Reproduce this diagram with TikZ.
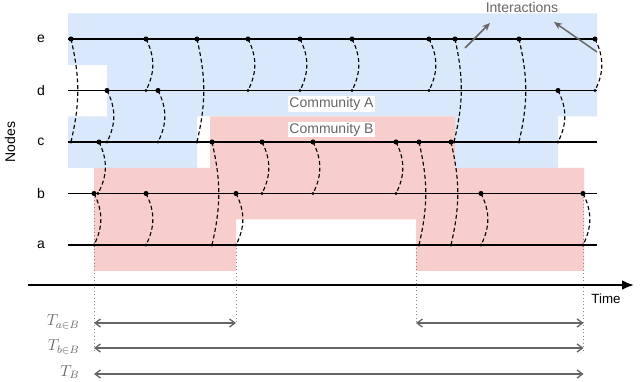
\documentclass[tikz,border=0pt]{standalone}
\usepackage{fontspec}
\setmainfont{Liberation Sans}
\usetikzlibrary{arrows.meta}
\definecolor{commA}{HTML}{DAE8FC}
\definecolor{commB}{HTML}{F8CECC}
\definecolor{txtgray}{HTML}{666666}
\definecolor{dotgray}{HTML}{8C8C8C}
\begin{document}
\begin{tikzpicture}[x=0.75pt,y=-0.75pt,
  rowline/.style={line width=1.1pt},
  conn/.style={line width=0.85pt, dash pattern=on 3pt off 2pt},
  lbl/.style={font=\fontsize{10.5}{12}\selectfont},
  commlbl/.style={lbl, text=txtgray, fill=white, inner sep=1pt},
  vdot/.style={dotgray, dotted, line width=0.6pt},
  span/.style={txtgray, line width=1pt, {Straight Barb[length=4pt,width=6pt]}-{Straight Barb[length=4pt,width=6pt]}},
  tlbl/.style={anchor=east, text=txtgray, font=\fontsize{12}{14}\selectfont},
  pointer/.style={txtgray, line width=1.1pt, -{Stealth[length=6pt,width=5pt]}}]
\useasboundingbox (0,0) rectangle (640,382);

% community regions
\fill[commA] (68,13.25) -- (597,13.25) -- (597,116.25) -- (558,116.25) -- (558,167.75)
  -- (455,167.75) -- (455,116.25) -- (197,116.25) -- (197,167.75) -- (68,167.75)
  -- (68,116.25) -- (107,116.25) -- (107,64.75) -- (68,64.75) -- cycle;
\fill[commB] (210,116.25) -- (455,116.25) -- (455,167.75) -- (584,167.75) -- (584,270.75)
  -- (416,270.75) -- (416,219.25) -- (236,219.25) -- (236,270.75) -- (94,270.75)
  -- (94,167.75) -- (210,167.75) -- cycle;

% dotted vertical guides
\coordinate (g1t) at (94,193.5);  \coordinate (g1b) at (94,352);
\coordinate (g2t) at (236,245);   \coordinate (g2b) at (236,323);
\coordinate (g3t) at (416,245);   \coordinate (g3b) at (416,323);
\coordinate (g4t) at (583.5,193.5); \coordinate (g4b) at (583.5,352);
\foreach \g in {1,2,3,4} { \draw[vdot] (g\g t) -- (g\g b); }

% node rows
\foreach \r/\y in {e/39,d/90.5,c/142,b/193.5,a/245} {
  \coordinate (\r0) at (68,\y);
  \coordinate (\r1) at (597,\y);
  \draw[rowline] (\r0) -- (\r1);
  \node[lbl] (l\r) at (41,\y) {\r};
}
\node[lbl, rotate=90] (nodeslbl) at (10,142) {Nodes};

% interactions: source x/y, target x/y, bend
\foreach \n/\sx/\sy/\tx/\ty/\b in {
  1/71/39/71/142/13, 2/146/39/146/90.5/27, 3/197/39/197/142/13,
  4/248/39/248/90.5/27, 5/300/39/300/90.5/27, 6/352/39/352/90.5/27,
  7/429/39/429/90.5/27, 8/455/39/454/142/13, 9/519/39/519/142/13,
  10/595/39/595/90.5/27, 11/107/90.5/107/142/27, 12/158/90.5/158/142/27,
  13/558/90.5/558/142/27, 14/99/142/98/193.5/27, 15/212/142/212/245/13,
  16/262/142/262/193.5/27, 17/313/142/313/193.5/27, 18/396/142/396/193.5/27,
  19/419/142/419/245/13, 20/451/142/451/245/13, 21/94/193.5/94/245/27,
  22/146/193.5/146/245/27, 23/236/193.5/236/245/27, 24/481/193.5/481/245/27,
  25/583/193.5/583/245/27} {
  \coordinate (s\n) at (\sx,\sy);
  \coordinate (t\n) at (\tx,\ty);
  \draw[conn] (s\n) to[bend left=\b] (t\n);
  \fill (s\n) circle (1.9pt);
  \fill (t\n) circle (1.15pt);
}

% community labels
\node[commlbl] (ca) at (331.5,104) {Community A};
\node[commlbl] (cb) at (331.5,129.5) {Community B};

% interactions pointer
\node[lbl, text=txtgray] (intl) at (522,7) {Interactions};
\coordinate (p1s) at (465,48); \coordinate (p1e) at (490,23);
\coordinate (p2s) at (597,52); \coordinate (p2e) at (554,22);
\draw[pointer] (p1s) -- (p1e);
\draw[pointer] (p2s) -- (p2e);

% time axis
\coordinate (ax0) at (28,285); \coordinate (ax1) at (634,285);
\draw[line width=1.9pt, -{Latex[length=9pt,width=7.5pt]}] (ax0) -- (ax1);
\node[lbl, font=\fontsize{10}{12}\selectfont] (timelbl) at (606,299) {Time};

% durations
\coordinate (d1a) at (94,323); \coordinate (d1b) at (236,323);
\coordinate (d2a) at (416,323); \coordinate (d2b) at (583.5,323);
\coordinate (d3a) at (94,348); \coordinate (d3b) at (583.5,348);
\coordinate (d4a) at (94,374); \coordinate (d4b) at (583.5,374);
\draw[span] (d1a) -- (d1b);
\draw[span] (d2a) -- (d2b);
\draw[span] (d3a) -- (d3b);
\draw[span] (d4a) -- (d4b);
\node[tlbl] (ta) at (84,322) {$T_{a\in B}$};
\node[tlbl] (tb) at (84,347) {$T_{b\in B}$};
\node[tlbl] (tB) at (84,372) {$T_{B}$};
\end{tikzpicture}
\end{document}
